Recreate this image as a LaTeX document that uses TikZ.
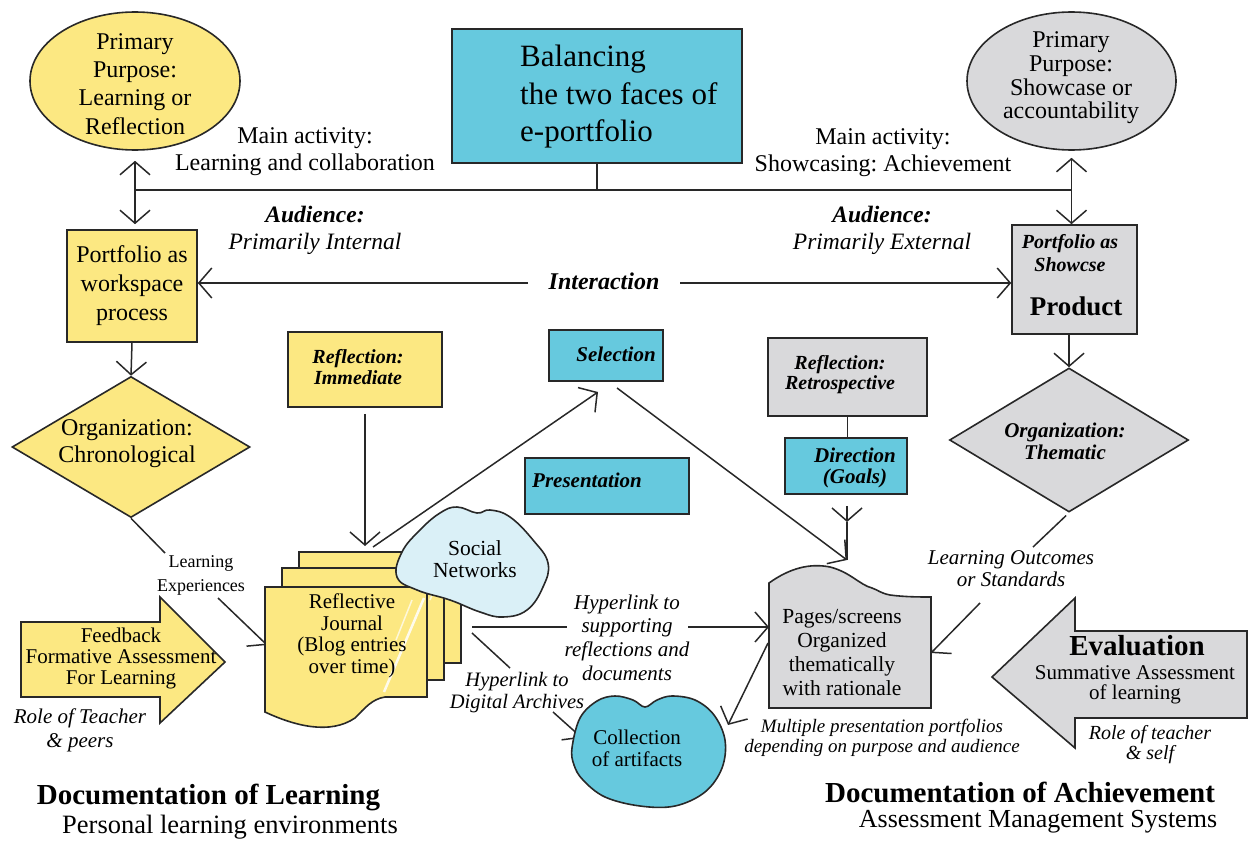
\documentclass[tikz,border=0pt]{standalone}
\usepackage{fontspec}
\setmainfont{Liberation Serif}
\usetikzlibrary{shapes.geometric,arrows.meta}
\definecolor{yel}{RGB}{252,232,130}
\definecolor{gry}{RGB}{217,217,219}
\definecolor{cyn}{RGB}{102,201,222}
\definecolor{lbl}{RGB}{218,240,247}
\definecolor{ink}{RGB}{40,40,40}
\tikzset{
 shp/.style={draw=ink, line width=1.6pt, inner sep=0pt},
 ln/.style={draw=ink, line width=1.5pt},
 arr/.style={ln, -{Straight Barb[length=13pt,width=30pt]}},
 dbl/.style={ln, {Straight Barb[length=13pt,width=30pt]}-{Straight Barb[length=13pt,width=30pt]}},
 txt/.style={align=center, inner sep=0pt, text=black},
 bi/.style={font=\bfseries\itshape\fontsize{#1}{#1}\selectfont},
}
\begin{document}
\frenchspacing
\begin{tikzpicture}[x=1pt,y=-1pt]
\useasboundingbox (0,0) rectangle (1249,840);

% top ellipses and title box
\node[shp, ellipse, fill=yel, minimum width=210pt, minimum height=138pt] (ppl) at (135,81) {};
\node[txt, font=\fontsize{24}{28.3}\selectfont] (pplt) at (135,84) {Primary\\Purpose:\\Learning or\\Reflection};
\node[shp, ellipse, fill=gry, minimum width=209pt, minimum height=138pt] (ppr) at (1071.5,81) {};
\node[txt, font=\fontsize{24}{23.7}\selectfont] (pprt) at (1071,78) {Primary\\Purpose:\\Showcase or\\accountability};
\node[shp, rectangle, fill=cyn, minimum width=290pt, minimum height=134pt] (bal) at (597,96) {};
\node[txt, align=left, anchor=west, font=\fontsize{31}{37.5}\selectfont] (balt) at (520,97) {Balancing\\the two faces of\\e-portfolio};

\node[txt, font=\fontsize{24}{27}\selectfont] (mal) at (305,151.5) {Main activity:\\Learning and collaboration};
\node[txt, font=\fontsize{24}{27}\selectfont] (mar) at (883,152.5) {Main activity:\\Showcasing: Achievement};
\node[txt, font=\fontsize{23.5}{27}\selectfont] (aul) at (315,230.5) {\textbf{\textit{Audience:}}\\\textit{Primarily Internal}};
\node[txt, font=\fontsize{23.5}{27}\selectfont] (aur) at (882,230.5) {\textbf{\textit{Audience:}}\\\textit{Primarily External}};

% portfolio boxes
\node[shp, rectangle, fill=yel, minimum width=130pt, minimum height=112pt, align=center, font=\fontsize{24}{29}\selectfont] (pw) at (132,286) {Portfolio as\\workspace\\process};
\node[shp, rectangle, fill=gry, minimum width=125pt, minimum height=109pt] (ps) at (1074.5,279.5) {};
\node[txt, font=\bfseries\itshape\fontsize{20}{23}\selectfont] (pst) at (1070,253.5) {Portfolio as\\Showcse};
\node[txt, font=\bfseries\fontsize{27}{30}\selectfont] (psp) at (1076,306) {Product};

\coordinate (jL) at (135,190); \coordinate (jR) at (1072,190);
\draw[ln] (jL) -- (jR);
\draw[ln] (bal.south) -- (bal.south |- jL);
\draw[dbl, shorten <=10pt, shorten >=5pt] (ppl.south) -- (ppl.south |- pw.north);
\draw[dbl, shorten <=7pt] (ppr.south) -- (ppr.south |- ps.north);

\node[txt, bi=24] (int) at (604,281) {Interaction};
\coordinate (iL) at (528,283); \coordinate (iR) at (680,283);
\draw[arr] (iL) -- (iL -| pw.east);
\draw[arr] (iR) -- (iR -| ps.west);

% left diamond
\node[shp, diamond, fill=yel, minimum width=238pt, minimum height=141pt] (d1) at (131,447) {};
\node[txt, font=\fontsize{24}{27}\selectfont] (d1t) at (127,444) {Organization:\\Chronological};
\draw[arr] (pw.south) -- (d1.north);

\node[txt, font=\fontsize{18}{24}\selectfont] (lex) at (201,575) {Learning\\Experiences};
\coordinate (le1) at (165,553); \coordinate (le2) at (218,598); \coordinate (jin) at (267,645);
\draw[ln] (d1.south) -- (le1);
\draw[arr] (le2) -- (jin);

% feedback arrow
\draw[shp, fill=yel] (21,622) -- (160,622) -- (160,597) -- (225,662) -- (160,723) -- (160,697) -- (21,697) -- cycle;
\node[txt, font=\fontsize{21}{21}\selectfont] (fbt) at (121,658.5) {Feedback\\Formative Assessment\\For Learning};
\node[txt, font=\itshape\fontsize{21}{24}\selectfont] (rtp) at (80,730) {Role of Teacher\\\& peers};

% reflective journal stack
\draw[shp, fill=yel] (299,552) rectangle (461,663);
\draw[shp, fill=yel] (282,568) rectangle (444,680);
\draw[shp, fill=yel] (265,587) -- (427,587) -- (427,697) -- (385,697) .. controls (372,699) and (365,708) .. (355,718) .. controls (330,735) and (295,726) .. (265,712) -- cycle;
\draw[white, line width=2.5pt, opacity=0.85] (424,598) -- (384,692);
\draw[white, line width=1.5pt, opacity=0.7] (412,600) -- (396,640);
\draw[white, line width=1.5pt, opacity=0.7] (440,575) -- (430,600);
\draw[white, line width=1.5pt, opacity=0.7] (455,560) -- (447,578);
\node[txt, font=\fontsize{21}{21.5}\selectfont] (jt) at (352,636) {Reflective\\Journal\\(Blog entries\\over time)};

% social networks cloud
\draw[shp, fill=lbl] plot[smooth cycle, tension=0.7] coordinates {(397,577) (402,552) (420,530) (440,513) (457,507) (477,513) (490,510) (510,517) (533,540) (548,563) (543,587) (527,610) (503,617) (480,612) (450,600) (417,590)};
\node[txt, font=\fontsize{21.5}{22}\selectfont] (snt) at (475,559) {Social\\Networks};

% reflection immediate
\node[shp, rectangle, fill=yel, minimum width=154pt, minimum height=75pt] (ri) at (365,369.5) {};
\node[txt, font=\bfseries\itshape\fontsize{20}{21}\selectfont] (rit) at (358,367) {Reflection:\\Immediate};
\coordinate (jtop) at (365,546);
\draw[arr, shorten <=6pt] (ri.south) -- (jtop);

% selection / presentation
\node[shp, rectangle, fill=cyn, minimum width=114pt, minimum height=51pt] (sel) at (606,355.5) {};
\node[txt, bi=21] (selt) at (616,354) {Selection};
\coordinate (js) at (373,547); \coordinate (selin) at (598,392);
\draw[arr] (js) -- (selin);
\coordinate (selout) at (617,388); \coordinate (pgtop) at (847,560);
\draw[arr] (selout) -- (pgtop);
\node[shp, rectangle, fill=cyn, minimum width=164pt, minimum height=56pt] (pre) at (607,486) {};
\node[txt, bi=21, anchor=west] (pret) at (532,480) {Presentation};

% retrospective / direction
\node[shp, rectangle, fill=gry, minimum width=159pt, minimum height=78pt] (ret) at (847.5,377) {};
\node[txt, font=\bfseries\itshape\fontsize{20}{20}\selectfont] (rett) at (840,375) {Reflection:\\Retrospective};
\node[shp, rectangle, fill=cyn, minimum width=122pt, minimum height=56pt] (dir) at (846,466) {};
\node[txt, font=\bfseries\itshape\fontsize{21}{21}\selectfont] (dirt) at (855,467.5) {Direction\\(Goals)};
\draw[ln] (ret.south) -- (ret.south |- dir.north);
\coordinate (dtip) at (847,522);
\draw[arr, shorten <=11pt] (dir.south -| dtip) -- (dtip);
\draw[ln] (dtip) -- (pgtop);

% right diamond
\node[shp, diamond, fill=gry, minimum width=239pt, minimum height=144pt] (d2) at (1069,440) {};
\node[txt, font=\bfseries\itshape\fontsize{21}{22}\selectfont] (d2t) at (1065,441) {Organization:\\Thematic};
\draw[arr] (ps.south -| d2.north) -- (d2.north);
\coordinate (lo1) at (1033,547); \coordinate (lo2) at (980,603); \coordinate (pgR) at (931,653);
\draw[ln, shorten <=4pt] (d2.south) -- (lo1);
\draw[arr] (lo2) -- (pgR);
\node[txt, font=\itshape\fontsize{21}{22}\selectfont] (lot) at (1011,569) {Learning Outcomes\\or Standards};

% pages/screens
\draw[shp, fill=gry] (769,708) -- (769,583) .. controls (790,568) and (810,563) .. (830,567) .. controls (850,572) and (860,585) .. (872,588) .. controls (878,590) and (880,593) .. (890,595) .. controls (905,597) and (920,597) .. (931,597) -- (931,708) -- cycle;
\node[txt, font=\fontsize{21.5}{24}\selectfont] (pgt) at (842,653) {Pages/screens\\Organized\\thematically\\with rationale};
\coordinate (pgL) at (769,627); \coordinate (pgL2) at (768,643);

% hyperlinks
\coordinate (h1) at (472,627); \coordinate (h2) at (567,627); \coordinate (h3) at (688,627);
\draw[ln] (h1) -- (h2);
\draw[arr] (h3) -- (pgL);
\node[txt, font=\itshape\fontsize{21}{23.7}\selectfont] (hst) at (627,637.5) {Hyperlink to\\supporting\\reflections and\\documents};
\coordinate (hd1) at (472,633); \coordinate (hd2) at (510,668); \coordinate (hd3) at (553,712); \coordinate (colA) at (582,738);
\draw[ln] (hd1) -- (hd2);
\draw[arr] (hd3) -- (colA);
\node[txt, font=\itshape\fontsize{20.5}{22}\selectfont] (hdt) at (517,693) {Hyperlink to\\Digital Archives};

% collection cloud
\draw[shp, fill=cyn] plot[smooth cycle, tension=0.6] coordinates {(572,748) (580,718) (597,701) (615,696) (633,700) (645,707) (657,700) (672,696) (695,700) (714,715) (725,740) (722,768) (705,792) (675,806) (640,806) (605,797) (583,780) (574,765)};
\node[txt, font=\fontsize{21}{22}\selectfont] (colt) at (637,748) {Collection\\of artifacts};
\coordinate (colB) at (728,725);
\draw[arr] (pgL2) -- (colB);

\node[txt, font=\itshape\fontsize{19}{20}\selectfont] (mpt) at (882,738) {Multiple presentation portfolios\\depending on purpose and audience};

% evaluation arrow
\draw[shp, fill=gry] (992,677) -- (1075,598) -- (1075,631) -- (1247,631) -- (1247,718) -- (1075,718) -- (1075,748) -- cycle;
\node[txt, font=\bfseries\fontsize{29}{30}\selectfont] (evt) at (1137,646) {Evaluation};
\node[txt, font=\fontsize{21}{19.5}\selectfont] (evs) at (1135,685) {Summative Assessment\\of learning};
\node[txt, font=\itshape\fontsize{20}{20}\selectfont] (rts) at (1150,745) {Role of teacher\\\& self};

% titles
\node[txt, font=\bfseries\fontsize{29}{30}\selectfont] (dol) at (208.5,797) {Documentation of Learning};
\node[txt, font=\fontsize{26.5}{28}\selectfont] (ple) at (230,827) {Personal learning environments};
\node[txt, font=\bfseries\fontsize{29}{30}\selectfont] (doa) at (1020,792) {Documentation of Achievement};
\node[txt, font=\fontsize{26}{28}\selectfont] (ams) at (1038,822) {Assessment Management Systems};
\end{tikzpicture}
\end{document}
